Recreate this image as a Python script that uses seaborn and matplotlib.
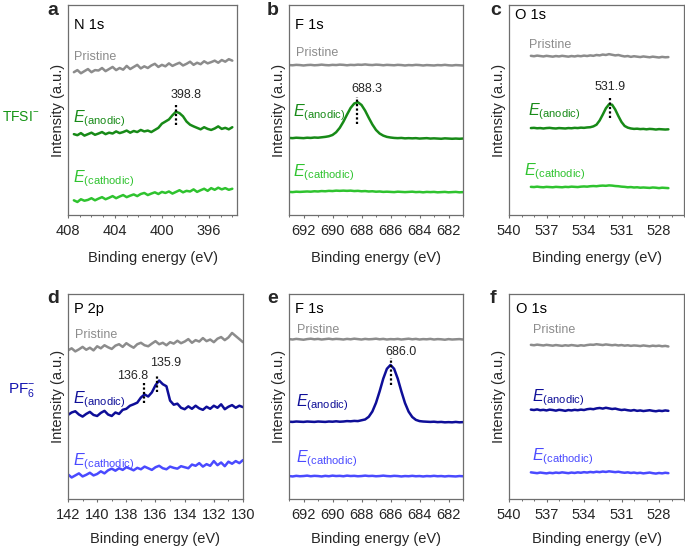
import numpy as np
import matplotlib
matplotlib.use("Agg")
import matplotlib.pyplot as plt
import seaborn as sns
from matplotlib.ticker import MultipleLocator

# binding energy grids (eV)
be_n1s = np.linspace(407.5, 394.0, 46)
be_f1s = np.linspace(693.0, 681.0, 49)
be_o1s = np.linspace(538.25, 527.25, 45)
be_p2p = np.linspace(142.0, 130.0, 49)

# ---- TFSI- : N 1s
n1s_pristine = [6.80, 6.90, 6.75, 6.85, 6.95, 6.80, 6.90, 6.88, 7.00, 6.85,
                6.95, 7.05, 6.90, 7.00, 6.92, 7.10, 6.95, 7.05, 7.15, 6.98,
                7.08, 7.00, 7.12, 7.20, 7.05, 7.15, 7.08, 7.22, 7.10, 7.18,
                7.25, 7.12, 7.20, 7.30, 7.15, 7.25, 7.18, 7.32, 7.22, 7.28,
                7.35, 7.25, 7.38, 7.30, 7.42, 7.35]
n1s_anodic = [3.85, 3.80, 3.90, 3.78, 3.85, 3.92, 3.82, 3.88, 3.95, 3.85,
              3.92, 3.88, 3.98, 3.90, 3.95, 4.02, 3.92, 4.00, 3.95, 4.05,
              3.98, 4.02, 3.95, 4.05, 4.15, 4.35, 4.45, 4.55, 4.75, 4.92,
              4.85, 4.70, 4.45, 4.30, 4.22, 4.15, 4.08, 4.18, 4.10, 4.05,
              4.12, 4.22, 4.10, 4.15, 4.08, 4.18]
n1s_cathodic = [0.70, 0.62, 0.75, 0.68, 0.72, 0.80, 0.70, 0.78, 0.85, 0.75,
                0.82, 0.90, 0.80, 0.88, 0.95, 0.85, 0.92, 0.98, 0.90, 1.00,
                1.05, 0.95, 1.02, 1.08, 1.00, 1.10, 1.05, 1.12, 1.02, 1.10,
                1.18, 1.08, 1.15, 1.12, 1.22, 1.10, 1.18, 1.25, 1.15, 1.28,
                1.20, 1.30, 1.22, 1.28, 1.20, 1.25]

# ---- TFSI- : F 1s
f1s_t_pristine = [7.14, 7.13, 7.15, 7.14, 7.12, 7.14, 7.15, 7.13, 7.14, 7.16,
                  7.14, 7.13, 7.15, 7.14, 7.16, 7.15, 7.13, 7.15, 7.14, 7.16,
                  7.15, 7.17, 7.15, 7.14, 7.16, 7.15, 7.13, 7.15, 7.14, 7.13,
                  7.15, 7.14, 7.12, 7.14, 7.13, 7.15, 7.14, 7.12, 7.14, 7.13,
                  7.12, 7.14, 7.13, 7.15, 7.13, 7.12, 7.14, 7.13, 7.12]
f1s_t_anodic = [3.67, 3.66, 3.68, 3.67, 3.66, 3.68, 3.67, 3.69, 3.68, 3.70,
                3.72, 3.75, 3.81, 3.94, 4.15, 4.44, 4.78, 5.10, 5.31, 5.37,
                5.24, 4.97, 4.63, 4.31, 4.05, 3.88, 3.78, 3.72, 3.69, 3.67,
                3.66, 3.67, 3.65, 3.66, 3.65, 3.66, 3.64, 3.65, 3.66, 3.64,
                3.65, 3.64, 3.63, 3.65, 3.64, 3.63, 3.64, 3.63, 3.64]
f1s_t_cathodic = [1.10, 1.09, 1.11, 1.10, 1.11, 1.12, 1.11, 1.13, 1.12, 1.14,
                  1.13, 1.15, 1.14, 1.16, 1.15, 1.16, 1.15, 1.16, 1.14, 1.15,
                  1.13, 1.14, 1.12, 1.13, 1.11, 1.12, 1.10, 1.11, 1.10, 1.09,
                  1.11, 1.10, 1.09, 1.10, 1.11, 1.09, 1.10, 1.08, 1.10, 1.09,
                  1.10, 1.08, 1.09, 1.10, 1.08, 1.09, 1.10, 1.08, 1.09]

# ---- TFSI- : O 1s
o1s_t_pristine = [7.58, 7.56, 7.59, 7.57, 7.55, 7.58, 7.56, 7.54, 7.57, 7.55,
                  7.58, 7.56, 7.54, 7.57, 7.55, 7.58, 7.56, 7.59, 7.57, 7.60,
                  7.58, 7.62, 7.60, 7.64, 7.62, 7.66, 7.63, 7.60, 7.62, 7.58,
                  7.55, 7.57, 7.53, 7.56, 7.54, 7.52, 7.55, 7.53, 7.51, 7.54,
                  7.52, 7.50, 7.53, 7.51, 7.52]
o1s_t_anodic = [4.14, 4.15, 4.13, 4.14, 4.12, 4.14, 4.15, 4.13, 4.12, 4.14,
                4.13, 4.12, 4.14, 4.13, 4.15, 4.14, 4.16, 4.15, 4.17, 4.18,
                4.22, 4.30, 4.50, 4.78, 5.08, 5.27, 5.25, 5.02, 4.71, 4.43,
                4.24, 4.16, 4.12, 4.10, 4.11, 4.09, 4.10, 4.08, 4.10, 4.09,
                4.07, 4.09, 4.08, 4.07, 4.08]
o1s_t_cathodic = [1.34, 1.33, 1.35, 1.33, 1.32, 1.34, 1.33, 1.32, 1.34, 1.33,
                  1.32, 1.34, 1.33, 1.35, 1.34, 1.33, 1.35, 1.36, 1.35, 1.37,
                  1.38, 1.37, 1.39, 1.40, 1.39, 1.41, 1.40, 1.38, 1.37, 1.35,
                  1.34, 1.32, 1.33, 1.31, 1.32, 1.30, 1.31, 1.30, 1.29, 1.31,
                  1.30, 1.28, 1.30, 1.29, 1.28]

# ---- PF6- : P 2p
p2p_pristine = [7.25, 7.35, 7.20, 7.30, 7.42, 7.28, 7.38, 7.25, 7.45, 7.35,
                7.50, 7.40, 7.32, 7.48, 7.55, 7.42, 7.60, 7.48, 7.38, 7.55,
                7.62, 7.50, 7.45, 7.58, 7.70, 7.55, 7.62, 7.50, 7.65, 7.58,
                7.72, 7.60, 7.68, 7.80, 7.62, 7.75, 7.68, 7.85, 7.70, 7.78,
                7.65, 7.82, 7.90, 7.75, 7.88, 8.10, 7.95, 7.80, 7.65]
p2p_anodic = [4.10, 4.22, 4.28, 4.12, 4.02, 4.15, 4.25, 4.10, 4.05, 4.20,
              4.30, 4.12, 4.05, 4.22, 4.15, 4.35, 4.40, 4.55, 4.62, 4.70,
              4.95, 5.10, 5.00, 5.20, 5.55, 5.78, 5.60, 5.50, 4.80, 4.60,
              4.65, 4.45, 4.38, 4.52, 4.40, 4.55, 4.42, 4.35, 4.50, 4.40,
              4.55, 4.45, 4.62, 4.38, 4.50, 4.58, 4.45, 4.55, 4.48]
p2p_cathodic = [1.20, 1.05, 1.15, 1.25, 1.10, 1.18, 1.28, 1.15, 1.22, 1.35,
                1.25, 1.40, 1.48, 1.38, 1.50, 1.42, 1.55, 1.48, 1.40, 1.52,
                1.45, 1.58, 1.50, 1.42, 1.55, 1.62, 1.50, 1.45, 1.58, 1.52,
                1.48, 1.60, 1.55, 1.50, 1.68, 1.62, 1.75, 1.58, 1.70, 1.62,
                1.85, 1.65, 1.78, 1.60, 1.82, 1.72, 1.85, 1.75, 1.90]

# ---- PF6- : F 1s
f1s_p_pristine = [7.80, 7.78, 7.81, 7.79, 7.77, 7.80, 7.82, 7.79, 7.81, 7.78,
                  7.80, 7.82, 7.79, 7.81, 7.80, 7.78, 7.81, 7.79, 7.82, 7.80,
                  7.78, 7.81, 7.79, 7.80, 7.82, 7.79, 7.81, 7.78, 7.80, 7.79,
                  7.81, 7.78, 7.80, 7.82, 7.79, 7.81, 7.78, 7.80, 7.79, 7.81,
                  7.78, 7.80, 7.79, 7.77, 7.80, 7.78, 7.79, 7.80, 7.78]
f1s_p_anodic = [3.77, 3.76, 3.78, 3.77, 3.76, 3.78, 3.77, 3.76, 3.78, 3.77,
                3.76, 3.78, 3.77, 3.79, 3.77, 3.78, 3.80, 3.79, 3.81, 3.80,
                3.84, 3.88, 4.01, 4.27, 4.69, 5.25, 5.87, 6.35, 6.54, 6.35,
                5.87, 5.25, 4.68, 4.26, 4.00, 3.86, 3.80, 3.78, 3.77, 3.76,
                3.77, 3.75, 3.76, 3.74, 3.75, 3.74, 3.76, 3.74, 3.75]
f1s_p_cathodic = [1.12, 1.10, 1.13, 1.11, 1.12, 1.14, 1.11, 1.13, 1.12, 1.10,
                  1.13, 1.11, 1.14, 1.12, 1.13, 1.11, 1.14, 1.12, 1.13, 1.11,
                  1.12, 1.14, 1.12, 1.13, 1.11, 1.12, 1.14, 1.12, 1.11, 1.13,
                  1.12, 1.10, 1.12, 1.11, 1.13, 1.11, 1.12, 1.10, 1.12, 1.11,
                  1.13, 1.11, 1.12, 1.10, 1.12, 1.11, 1.10, 1.12, 1.11]

# ---- PF6- : O 1s
o1s_p_pristine = [7.52, 7.50, 7.53, 7.51, 7.49, 7.52, 7.50, 7.48, 7.51, 7.49,
                  7.47, 7.50, 7.48, 7.51, 7.49, 7.47, 7.50, 7.48, 7.51, 7.53,
                  7.52, 7.55, 7.53, 7.51, 7.54, 7.52, 7.50, 7.52, 7.49, 7.51,
                  7.48, 7.50, 7.47, 7.49, 7.48, 7.46, 7.49, 7.47, 7.45, 7.48,
                  7.46, 7.48, 7.45, 7.47, 7.44]
o1s_p_anodic = [4.36, 4.34, 4.37, 4.33, 4.35, 4.32, 4.36, 4.34, 4.31, 4.35,
                4.33, 4.30, 4.34, 4.32, 4.35, 4.33, 4.36, 4.34, 4.38, 4.40,
                4.38, 4.42, 4.44, 4.41, 4.45, 4.42, 4.39, 4.41, 4.37, 4.34,
                4.36, 4.33, 4.31, 4.34, 4.30, 4.32, 4.29, 4.31, 4.33, 4.30,
                4.28, 4.31, 4.29, 4.32, 4.30]
o1s_p_cathodic = [1.30, 1.28, 1.26, 1.29, 1.27, 1.25, 1.28, 1.26, 1.29, 1.27,
                  1.30, 1.28, 1.26, 1.29, 1.27, 1.30, 1.28, 1.31, 1.29, 1.32,
                  1.30, 1.33, 1.31, 1.34, 1.32, 1.35, 1.33, 1.31, 1.33, 1.30,
                  1.28, 1.30, 1.27, 1.29, 1.26, 1.28, 1.25, 1.27, 1.29, 1.26,
                  1.24, 1.27, 1.25, 1.28, 1.26]

# peak labels: (energy, label text x, label text y, dotted top, dotted bottom)
peaks_n1s = [(398.8, 397.9, 5.71, 5.30, 4.30)]
peaks_f1s_t = [(688.3, 687.6, 5.98, 5.63, 4.33)]
peaks_o1s_t = [(531.9, 531.9, 6.08, 5.63, 4.60)]
peaks_p2p = [(136.8, 137.6, 6.00, 5.72, 4.67), (135.9, 135.3, 6.65, 6.00, 5.23)]
peaks_f1s_p = [(686.0, 685.3, 7.19, 6.88, 5.56)]
peaks_o1s_p = []

GRAY = "#8c8c8c"
GREEN_A, GREEN_C = "#178a17", "#2fc32f"
BLUE_A, BLUE_C = "#0e0e98", "#4a4aff"
FRAME = "#6e6e6e"

sns.set_style("ticks")
plt.rcParams["font.family"] = ["Liberation Sans", "DejaVu Sans"]
plt.rcParams["mathtext.fontset"] = "custom"
plt.rcParams["mathtext.rm"] = "Liberation Sans"
plt.rcParams["mathtext.it"] = "Liberation Sans:italic"

W, H = 685, 549
fig = plt.figure(figsize=(W / 100, H / 100), dpi=100)


def rect(left, right, top, bottom):
    return [left / W, 1 - bottom / H, (right - left) / W, (bottom - top) / H]


# layout: axes box, letter, xlim, major/minor ticks, text positions in axes frac
panels = [
    dict(box=rect(68, 237, 5, 215), letter="a", lx=47, core="N 1s",
         be=be_n1s, ys=(n1s_pristine, n1s_anodic, n1s_cathodic),
         cols=(GRAY, GREEN_A, GREEN_C), xlim=(408, 393.6), major=4, minor=1,
         peaks=peaks_n1s, core_pos=(0.036, 0.905), pri_pos=(0.036, 0.752),
         an_pos=(0.030, 0.443), ca_pos=(0.030, 0.157)),
    dict(box=rect(289, 463, 5, 215), letter="b", lx=267, core="F 1s",
         be=be_f1s, ys=(f1s_t_pristine, f1s_t_anodic, f1s_t_cathodic),
         cols=(GRAY, GREEN_A, GREEN_C), xlim=(693, 681), major=2, minor=1,
         peaks=peaks_f1s_t, core_pos=(0.034, 0.905), pri_pos=(0.039, 0.771),
         an_pos=(0.023, 0.468), ca_pos=(0.023, 0.186)),
    dict(box=rect(509, 684, 5, 215), letter="c", lx=490, core="O 1s",
         be=be_o1s, ys=(o1s_t_pristine, o1s_t_anodic, o1s_t_cathodic),
         cols=(GRAY, GREEN_A, GREEN_C), xlim=(540, 526), major=3, minor=1,
         peaks=peaks_o1s_t, core_pos=(0.034, 0.952), pri_pos=(0.114, 0.810),
         an_pos=(0.107, 0.476), ca_pos=(0.086, 0.190)),
    dict(box=rect(68, 243, 294, 499), letter="d", lx=47, core="P 2p",
         be=be_p2p, ys=(p2p_pristine, p2p_anodic, p2p_cathodic),
         cols=(GRAY, BLUE_A, BLUE_C), xlim=(142, 130), major=2, minor=1,
         peaks=peaks_p2p, core_pos=(0.034, 0.925), pri_pos=(0.038, 0.800),
         an_pos=(0.029, 0.467), ca_pos=(0.029, 0.166)),
    dict(box=rect(289, 463, 294, 499), letter="e", lx=267, core="F 1s",
         be=be_f1s, ys=(f1s_p_pristine, f1s_p_anodic, f1s_p_cathodic),
         cols=(GRAY, BLUE_A, BLUE_C), xlim=(693, 681), major=2, minor=1,
         peaks=peaks_f1s_p, core_pos=(0.034, 0.925), pri_pos=(0.044, 0.824),
         an_pos=(0.040, 0.450), ca_pos=(0.040, 0.177)),
    dict(box=rect(509, 684, 294, 499), letter="f", lx=490, core="O 1s",
         be=be_o1s, ys=(o1s_p_pristine, o1s_p_anodic, o1s_p_cathodic),
         cols=(GRAY, BLUE_A, BLUE_C), xlim=(540, 526), major=3, minor=1,
         peaks=peaks_o1s_p, core_pos=(0.040, 0.925), pri_pos=(0.137, 0.824),
         an_pos=(0.131, 0.475), ca_pos=(0.131, 0.190)),
]

for i, p in enumerate(panels):
    ax = fig.add_axes(p["box"])
    for y, c in zip(p["ys"], p["cols"]):
        sns.lineplot(x=p["be"], y=y, ax=ax, color=c, linewidth=1.8)

    ax.set_xlim(*p["xlim"])
    ax.set_ylim(0, 10)
    ax.set_yticks([])
    ax.xaxis.set_major_locator(MultipleLocator(p["major"]))
    ax.xaxis.set_minor_locator(MultipleLocator(p["minor"]))
    ax.tick_params(axis="x", which="major", direction="out", length=2.5,
                   width=0.8, color=FRAME, pad=4, labelsize=10.5)
    ax.tick_params(axis="x", which="minor", direction="out", length=1.6,
                   width=0.7, color=FRAME)
    for s in ax.spines.values():
        s.set_visible(True)
        s.set_color(FRAME)
        s.set_linewidth(0.9)

    ax.set_xlabel("Binding energy (eV)", fontsize=10.5,
                  labelpad=9 if i < 3 else 7)
    ax.set_ylabel("Intensity (a.u.)", fontsize=10.5, labelpad=2.5)

    ax.text(*p["core_pos"], p["core"], transform=ax.transAxes, fontsize=10.5,
            va="center", ha="left", color="black")
    ax.text(*p["pri_pos"], "Pristine", transform=ax.transAxes, fontsize=9,
            va="center", ha="left", color=GRAY)
    ax.text(*p["an_pos"], r"$E_{\mathrm{(anodic)}}$", transform=ax.transAxes,
            fontsize=11.5, va="baseline", ha="left", color=p["cols"][1])
    ax.text(*p["ca_pos"], r"$E_{\mathrm{(cathodic)}}$", transform=ax.transAxes,
            fontsize=11.5, va="baseline", ha="left", color=p["cols"][2])

    for e, tx, ty, top, bot in p["peaks"]:
        ax.plot([e, e], [bot, top], color="black", linestyle=(0, (1, 1)),
                linewidth=1.6)
        ax.text(tx, ty, f"{e:.1f}", fontsize=9, ha="center", va="center")

    yb = 15 if i < 3 else 303
    fig.text(p["lx"] / W, 1 - yb / H, p["letter"], fontsize=14,
             fontweight="bold", ha="left", va="baseline")

fig.text(2 / W, 1 - 117 / H, r"TFSI$^{-}$", fontsize=10, color="#149414",
         ha="left", va="center")
fig.text(8 / W, 1 - 390 / H, r"PF$_6^{-}$", fontsize=11, color="#1515b0",
         ha="left", va="center")

fig.savefig("out.png", dpi=100)
